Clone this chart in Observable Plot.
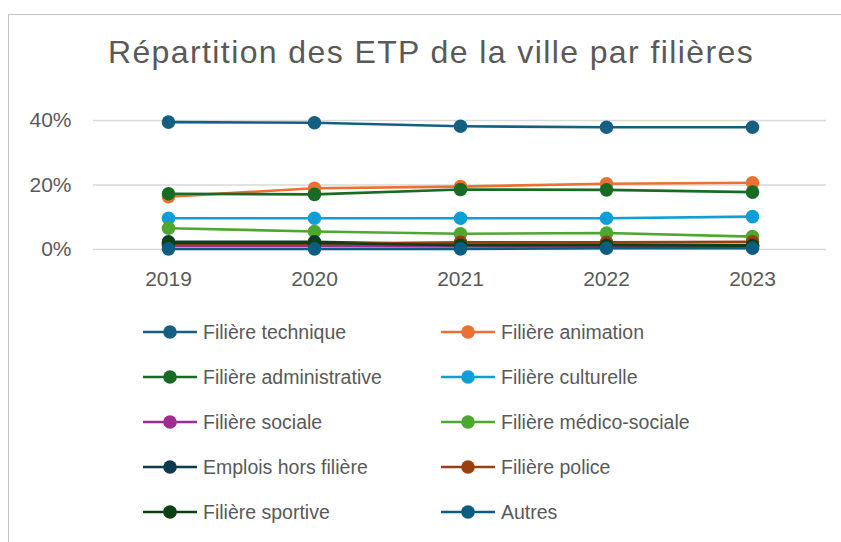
<!DOCTYPE html>
<html>
<head>
<meta charset="utf-8">
<script src="https://cdn.jsdelivr.net/npm/d3@7"></script>
<script src="https://cdn.jsdelivr.net/npm/@observablehq/plot@0.6"></script>
<style>
  html, body { margin: 0; padding: 0; background: #fff; overflow: hidden; width: 841px; height: 542px; }
  #frame { position: absolute; left: 8px; top: 14px; width: 1000px; height: 1000px; border-left: 1.5px solid #c4c4c4; border-top: 1.5px solid #c4c4c4; }
  #title { position: absolute; left: 0; width: 862px; top: 34px; text-align: center; font-family: "Liberation Sans", Arial, sans-serif; font-size: 32px; letter-spacing: 1.4px; color: #595959; white-space: nowrap; }
  #chart { position: absolute; left: 0; top: 90px; }
  #legend { position: absolute; left: 0; top: 0; }
  .item { position: absolute; height: 30px; display: flex; align-items: center; font-family: "Liberation Sans", Arial, sans-serif; font-size: 19.5px; color: #595959; white-space: nowrap; }
  .item svg { margin-right: 6px; }
</style>
</head>
<body>
<div id="frame"></div>
<div id="title">Répartition des ETP de la ville par filières</div>
<div id="chart"></div>
<div id="legend"></div>
<script>
const years = [2019, 2020, 2021, 2022, 2023];
const seriesNames = [
  "Filière technique", "Filière animation", "Filière administrative", "Filière culturelle",
  "Filière sociale", "Filière médico-sociale", "Emplois hors filière", "Filière police",
  "Filière sportive", "Autres"
];
const seriesColors = [
  "#156082", "#E97132", "#196B24", "#0F9ED5",
  "#A02B93", "#4EA72E", "#0D3A4E", "#9A4010",
  "#0E4015", "#0B5E80"
];
const technique      = [0.395, 0.393, 0.382, 0.379, 0.379];
const animation      = [0.164, 0.190, 0.195, 0.204, 0.207];
const administrative = [0.173, 0.171, 0.186, 0.185, 0.178];
const culturelle     = [0.097, 0.097, 0.097, 0.097, 0.102];
const sociale        = [0.012, 0.012, 0.010, 0.010, 0.010];
const medicoSociale  = [0.066, 0.056, 0.049, 0.051, 0.040];
const emplois        = [0.024, 0.024, 0.015, 0.015, 0.014];
const police         = [0.018, 0.018, 0.022, 0.022, 0.024];
const sportive       = [0.020, 0.020, 0.013, 0.013, 0.012];
const autres         = [0.002, 0.002, 0.002, 0.004, 0.004];
const yTicks = [0, 0.2, 0.4];

const seriesValues = [technique, animation, administrative, culturelle, sociale,
  medicoSociale, emplois, police, sportive, autres];

const data = seriesNames.flatMap((name, i) =>
  years.map((year, j) => ({ series: name, year, value: seriesValues[i][j] })));

const marks = [
  Plot.ruleY(yTicks, { stroke: "#d9d9d9", strokeWidth: 1.5 }),
  Plot.axisY({ ticks: yTicks, tickSize: 0, tickPadding: 22, tickFormat: d => Math.round(d * 100) + "%", fontSize: 21, label: null }),
  Plot.axisX({ tickSize: 0, tickPadding: 22, tickFormat: d => String(d), fontSize: 21, label: null })
];
seriesNames.forEach(name => {
  const sub = data.filter(d => d.series === name);
  marks.push(Plot.line(sub, { x: "year", y: "value", stroke: "series", strokeWidth: 2.6 }));
  marks.push(Plot.dot(sub, { x: "year", y: "value", fill: "series", r: 6.8 }));
});

const chart = Plot.plot({
  width: 841,
  height: 220,
  marginLeft: 93,
  marginRight: 15,
  marginTop: 30,
  marginBottom: 61,
  style: { fontFamily: "'Liberation Sans', Arial, sans-serif", color: "#595959", background: "transparent", overflow: "visible" },
  x: { type: "point", domain: years, padding: 0.5 },
  y: { domain: [0, 0.4] },
  color: { domain: seriesNames, range: seriesColors },
  marks
});
document.getElementById("chart").appendChild(chart);

// Legend
const legend = document.getElementById("legend");
const colLeft = [143, 441];
const rowCenters = [332, 377, 422, 467, 512];
seriesNames.forEach((name, i) => {
  const col = i % 2, row = Math.floor(i / 2);
  const div = document.createElement("div");
  div.className = "item";
  div.style.left = colLeft[col] + "px";
  div.style.top = (rowCenters[row] - 15) + "px";
  const c = seriesColors[i];
  div.innerHTML = `<svg width="54" height="20"><line x1="0" x2="54" y1="10" y2="10" stroke="${c}" stroke-width="2.6"/><circle cx="27" cy="10" r="6.8" fill="${c}"/></svg><span>${name}</span>`;
  legend.appendChild(div);
});
</script>
</body>
</html>
